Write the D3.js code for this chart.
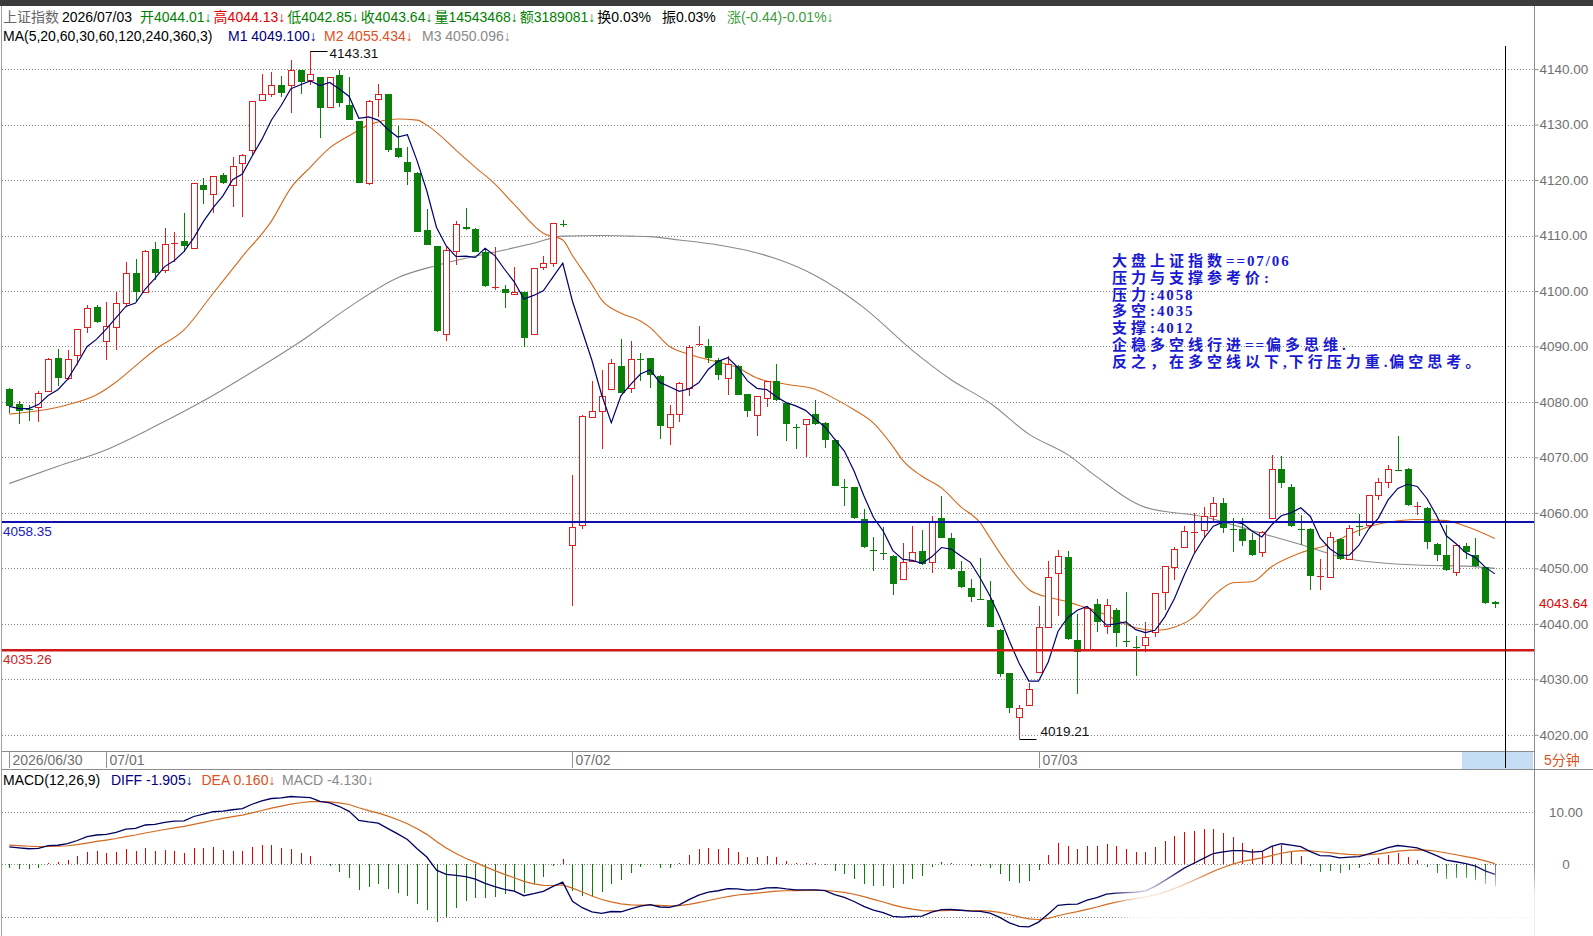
<!DOCTYPE html>
<html>
<head>
<meta charset="utf-8">
<title>上证指数 5分钟</title>
<script src="https://cdn.jsdelivr.net/npm/d3@7/dist/d3.min.js"></script>
<style>
  html, body { margin: 0; padding: 0; background: #ffffff; }
  svg { display: block; font-family: "Liberation Sans", Arial, "Noto Sans CJK SC", sans-serif; }
</style>
</head>
<body>
<svg id="chart"></svg>
<script>
// 5 minute bars of 上证指数, tail of 06/30 then 07/01 .. 07/03 (48 bars a day)
const opens = [
  4082.3,4079.6,4079.0,4079.0,4082.0,4087.9,4084.4,4088.5,4093.5,4097.2,
  4090.9,4093.6,4097.8,4103.2,4099.9,4107.5,4103.8,4108.5,4109.0,4107.7,
  4119.1,4117.5,4121.0,4119.1,4123.0,4125.5,4134.5,4135.5,4137.1,4137.1,
  4139.8,4138.0,4138.5,4133.2,4138.9,4133.5,4130.6,4119.5,4134.7,4135.5,
  4125.7,4123.2,4121.3,4111.0,4108.1,4092.2,4107.2,4111.5,4111.1,4107.1,
  4100.7,4100.3,4099.4,4099.9,4092.2,4104.3,4105.0,4112.3,4054.2,4057.8,
  4077.3,4078.4,4082.3,4086.5,4082.6,4087.9,4087.9,4084.7,4075.4,4077.8,
  4082.5,4090.2,4090.1,4087.6,4084.4,4086.5,4081.4,4077.7,4080.7,4083.7,
  4079.8,4075.6,4076.0,4077.8,4076.2,4073.2,4064.9,4064.6,4058.9,4053.5,
  4052.9,4052.3,4048.1,4051.3,4053.1,4051.1,4059.0,4055.5,4049.6,4046.4,
  4044.6,4044.3,4038.9,4031.1,4023.2,4025.4,4031.4,4039.4,4049.2,4052.0,
  4037.1,4035.4,4043.6,4039.6,4042.5,4037.1,4036.1,4036.1,4038.5,4045.8,
  4050.3,4053.9,4056.4,4057.0,4059.4,4061.7,4057.3,4057.1,4055.1,4053.0,
  4059.0,4068.0,4064.7,4057.3,4057.1,4048.4,4048.5,4055.3,4051.6,4057.9,
  4057.9,4063.2,4065.5,4067.9,4068.0,4061.0,4060.9,4054.4,4052.4,4049.4,
  4054.0,4052.4,4050.2,4044.01
];
const highs = [
  4082.5,4080.1,4079.5,4082.0,4087.9,4089.5,4089.4,4093.2,4097.5,4097.5,
  4098.1,4099.9,4105.3,4105.7,4107.4,4108.9,4111.3,4110.6,4114.0,4119.5,
  4120.3,4120.8,4121.2,4124.2,4124.7,4134.3,4139.2,4139.5,4138.7,4141.6,
  4139.9,4143.31,4138.6,4138.6,4139.8,4138.5,4130.7,4134.4,4137.4,4135.6,
  4129.7,4126.0,4121.5,4114.8,4108.2,4108.0,4112.6,4114.9,4111.3,4107.7,
  4108.0,4101.1,4104.3,4099.9,4104.2,4106.3,4112.3,4112.8,4066.8,4077.6,
  4083.7,4085.8,4087.7,4091.3,4090.9,4088.9,4088.0,4084.8,4079.5,4083.6,
  4090.3,4093.7,4091.4,4087.9,4088.2,4086.7,4081.5,4081.1,4083.8,4086.8,
  4079.9,4076.0,4077.0,4080.4,4076.3,4073.3,4066.2,4064.7,4060.7,4055.7,
  4057.5,4052.4,4054.5,4057.6,4057.0,4059.4,4063.1,4056.3,4051.3,4048.0,
  4051.9,4047.8,4039.0,4031.2,4025.4,4029.3,4043.2,4051.4,4053.4,4053.1,
  4041.7,4043.2,4044.4,4044.4,4042.8,4045.8,4037.8,4040.3,4045.6,4050.5,
  4053.9,4057.7,4060.0,4061.1,4062.8,4062.6,4059.0,4059.0,4056.3,4056.7,
  4070.4,4070.2,4065.2,4059.6,4057.2,4051.6,4056.6,4055.4,4057.9,4059.8,
  4063.3,4066.3,4068.6,4073.9,4068.1,4062.0,4061.0,4054.5,4057.8,4054.3,
  4054.5,4055.4,4050.3,4044.13
];
const lows = [
  4078.0,4076.0,4076.5,4076.3,4081.8,4082.8,4084.0,4086.7,4092.5,4094.3,
  4087.6,4089.4,4097.2,4098.1,4099.7,4102.0,4103.2,4105.3,4107.1,4107.5,
  4115.7,4114.1,4119.2,4115.2,4113.3,4124.5,4134.4,4135.0,4134.9,4132.0,
  4135.6,4137.1,4127.5,4132.9,4133.2,4130.8,4119.4,4119.1,4131.4,4125.1,
  4123.9,4119.1,4110.6,4108.3,4092.6,4090.9,4104.7,4111.0,4107.0,4100.8,
  4100.2,4096.9,4099.3,4089.9,4092.1,4103.7,4104.4,4111.6,4043.2,4057.1,
  4077.2,4071.5,4082.2,4081.6,4081.6,4083.7,4082.5,4073.3,4072.3,4076.3,
  4081.0,4090.0,4087.1,4084.0,4081.3,4081.2,4077.2,4073.9,4079.0,4080.1,
  4072.9,4071.5,4070.0,4075.9,4071.7,4064.8,4061.3,4058.9,4053.6,4049.5,
  4051.5,4045.2,4048.0,4051.2,4050.6,4049.2,4055.4,4049.7,4046.5,4043.9,
  4044.3,4039.4,4030.4,4023.9,4019.21,4025.3,4031.3,4039.3,4041.4,4037.1,
  4027.4,4035.3,4038.6,4038.2,4035.8,4035.8,4030.6,4035.0,4037.6,4042.5,
  4047.9,4053.6,4052.8,4055.4,4058.5,4056.3,4052.9,4054.1,4052.3,4052.1,
  4058.9,4064.5,4057.5,4054.2,4046.1,4046.1,4048.2,4051.5,4051.5,4055.9,
  4057.3,4062.3,4064.4,4067.6,4061.2,4059.6,4053.5,4051.4,4049.6,4048.6,
  4051.6,4050.2,4043.6,4042.85
];
const closes = [
  4079.2,4078.4,4078.8,4081.7,4087.7,4084.4,4087.7,4093.1,4096.9,4094.5,
  4093.7,4097.8,4103.2,4099.9,4107.2,4103.3,4108.4,4108.7,4108.1,4119.4,
  4118.2,4120.7,4119.4,4122.6,4124.6,4134.2,4135.6,4137.1,4135.7,4139.8,
  4137.7,4139.1,4132.9,4138.5,4133.9,4130.9,4119.5,4134.2,4135.5,4125.5,
  4124.1,4121.5,4110.7,4108.3,4092.7,4107.4,4112.0,4111.1,4107.1,4100.9,
  4100.8,4099.7,4099.8,4091.6,4104.1,4105.0,4112.2,4112.1,4057.4,4077.5,
  4078.4,4081.1,4087.0,4081.7,4087.7,4087.7,4084.9,4075.6,4077.8,4083.5,
  4089.9,4090.4,4087.9,4084.9,4086.8,4081.3,4078.3,4081.0,4083.7,4080.4,
  4076.0,4075.4,4076.9,4076.0,4073.2,4064.9,4064.7,4059.0,4053.9,4053.3,
  4052.7,4047.1,4051.2,4052.9,4050.7,4058.5,4055.5,4049.8,4046.6,4044.8,
  4044.4,4039.5,4031.0,4024.8,4024.8,4028.3,4039.4,4048.4,4052.2,4037.2,
  4035.0,4042.9,4040.3,4043.4,4038.3,4036.9,4035.9,4037.6,4045.5,4050.4,
  4053.5,4056.8,4056.6,4059.4,4061.7,4057.2,4057.1,4055.0,4052.4,4056.6,
  4068.0,4065.4,4057.6,4057.1,4048.7,4048.6,4055.7,4051.6,4057.3,4057.7,
  4063.2,4065.5,4068.0,4067.7,4061.4,4061.2,4054.7,4052.4,4049.7,4054.2,
  4053.0,4050.4,4043.8,4043.64
];

// M2 (MA20) and M3 (MA60) as [bar index, value]
const m2Points = [
  [0,4077.8],[3,4078.4],[6,4079.5],[9,4081.3],[11,4083.6],[13,4086.5],[15,4089.4],[18,4093.0],
  [21,4099.6],[24,4106.2],[27,4112.6],[29,4118.6],[31,4122.3],[33,4125.8],[35,4128.0],[37,4129.9],
  [40,4131.0],[42,4130.8],[43,4129.9],[44,4128.6],[46,4125.4],[48,4122.3],[50,4119.3],[52,4115.6],
  [55,4110.4],[57,4109.2],[58,4106.4],[60,4101.2],[61,4098.4],[63,4096.0],[65,4094.6],[66,4093.4],
  [68,4090.0],[70,4088.6],[72,4087.6],[75,4086.2],[77,4084.3],[80,4083.2],[83,4082.3],[85,4080.6],
  [87,4078.6],[89,4076.2],[91,4072.0],[92,4069.5],[94,4066.6],[96,4064.5],[98,4061.1],[100,4058.2],
  [101,4055.5],[103,4050.3],[105,4046.2],[107,4044.8],[109,4044.0],[110,4043.4],[112,4042.3],[114,4040.7],
  [116,4039.3],[118,4038.8],[120,4039.4],[122,4041.2],[124,4045.0],[126,4047.4],[128,4047.6],[130,4050.3],
  [133,4052.8],[136,4054.4],[138,4056.1],[140,4057.5],[142,4058.3],[145,4058.8],[148,4058.6],[150,4057.6],
  [153,4055.4]
];
const m3Points = [
  [0,4065.3],[5,4068.4],[10,4071.4],[15,4075.6],[20,4080.2],[25,4085.4],[30,4090.9],[35,4097.1],
  [40,4102.4],[44,4104.6],[48,4106.3],[51,4107.4],[54,4108.6],[57,4109.9],[61,4110.0],[64,4109.9],
  [66,4109.8],[69,4109.2],[73,4108.3],[76,4107.3],[79,4105.8],[83,4102.8],[88,4097.0],[93,4089.3],
  [97,4084.0],[101,4079.8],[105,4074.2],[109,4070.5],[112,4066.5],[117,4061.0],[123,4059.3],[129,4056.3],
  [133,4054.3],[138,4051.7],[145,4050.6],[150,4050.4],[153,4050.0]
];

// macd state at the first visible bar
const macdStartDiff = 3.35;
const macdStartDea = 3.7;
const macdStartLag = 1.5;   // ema12 sits a little under the first close (market was rising)

const priceTicks = [4020, 4030, 4040, 4050, 4060, 4070, 4080, 4090, 4100, 4110, 4120, 4130, 4140];
const macdTicks = [10, 0, -10];
const dateLabels = ['2026/06/30', '07/01', '07/02', '07/03'];
const dateIndex = [0, 10, 58, 106];

const pressureLevel = 4058.35;
const bullBearLevel = 4035.26;
const lastPrice = 4043.64;
const highMark = { index: 31, value: 4143.31 };
const lowMark = { index: 104, value: 4019.21 };

const noteLines = [
  '大盘上证指数==07/06',
  '压力与支撑参考价:',
  '压力:4058',
  '多空:4035',
  '支撑:4012',
  '企稳多空线行进==偏多思维.',
  '反之，在多空线以下,下行压力重.偏空思考。'
];

const UP = '#e01e1e';
const DOWN = '#0a800a';

function makeChart() {
  let w = 1593;
  let h = 936;
  let plotRight = 1534;

  let svg = d3.select('#chart')
    .attr('width', w)
    .attr('height', h);

  svg.append('rect').attr('width', w).attr('height', h).attr('fill', '#ffffff');
  svg.append('rect').attr('width', w).attr('height', 6).attr('fill', '#3c3c3c');

  let defs = svg.append('defs');
  defs.append('filter').attr('id', 'soft')
    .attr('x', '-20%').attr('y', '-40%').attr('width', '140%').attr('height', '180%')
    .append('feGaussianBlur').attr('stdDeviation', 9);

  let xScale = d3.scaleLinear()
    .domain([0, closes.length - 1])
    .range([9.3, 1494.9]);
  let yScale = d3.scaleLinear()
    .domain([4020, 4140])
    .range([734.8, 69.1]);
  let yMacd = d3.scaleLinear()
    .domain([-10, 10])
    .range([916.6, 812.2]);

  // crisp pixel centre of a bar
  let px = (i) => Math.round(xScale(i)) + 0.5;
  let py = (v) => Math.round(yScale(v)) + 0.5;

  // frame
  svg.append('line').attr('x1', 1.5).attr('x2', 1.5).attr('y1', 6).attr('y2', h)
    .attr('stroke', '#a0a0a0');
  svg.append('line').attr('x1', plotRight + 0.5).attr('x2', plotRight + 0.5).attr('y1', 6).attr('y2', h)
    .attr('stroke', '#8c8c8c');

  // price grid
  svg.append('g').selectAll('line')
    .data(priceTicks)
    .enter()
    .append('line')
    .attr('x1', 2).attr('x2', plotRight)
    .attr('y1', (d) => py(d)).attr('y2', (d) => py(d))
    .attr('stroke', '#8a8a8a')
    .attr('stroke-dasharray', '1,2');

  // price axis on the right
  let yAxis = d3.axisRight(yScale)
    .tickValues(priceTicks)
    .tickFormat(d3.format('.2f'))
    .tickSize(4)
    .tickPadding(1);
  let yAxisG = svg.append('g')
    .attr('transform', `translate(${plotRight + 0.5}, 0)`)
    .call(yAxis);
  yAxisG.select('.domain').remove();
  yAxisG.selectAll('line').attr('stroke', '#8c8c8c');
  yAxisG.selectAll('text')
    .attr('fill', '#707070')
    .style('font-size', '13.5px')
    .style('font-family', '"Liberation Sans", Arial, sans-serif');

  // last price tag
  svg.append('text')
    .attr('x', plotRight + 5)
    .attr('y', yScale(lastPrice))
    .attr('dy', '0.35em')
    .attr('fill', '#e00000')
    .style('font-size', '13.5px')
    .text(lastPrice.toFixed(2));

  // M3 and M2 below the candles
  let curve = d3.line()
    .x((d) => xScale(d[0]))
    .y((d) => yScale(d[1]))
    .curve(d3.curveMonotoneX);

  svg.append('path').datum(m3Points)
    .attr('d', curve).attr('fill', 'none')
    .attr('stroke', '#8a8a8a').attr('stroke-width', 1.1);
  svg.append('path').datum(m2Points)
    .attr('d', curve).attr('fill', 'none')
    .attr('stroke', '#d2691e').attr('stroke-width', 1.1);

  // candles
  let bars = closes.map((c, i) => ({ i: i, o: opens[i], h: highs[i], l: lows[i], c: c }));
  let cg = svg.append('g').attr('shape-rendering', 'crispEdges');

  bars.forEach((d) => {
    let up = d.c >= d.o;
    let color = up ? UP : DOWN;
    let cx = px(d.i);
    let top = Math.max(d.o, d.c);
    let bot = Math.min(d.o, d.c);

    if (top - bot < 0.35) {
      // doji: cross
      cg.append('line').attr('x1', cx).attr('x2', cx)
        .attr('y1', yScale(d.h)).attr('y2', yScale(d.l)).attr('stroke', color);
      cg.append('line').attr('x1', cx - 3.5).attr('x2', cx + 3.5)
        .attr('y1', py(d.c)).attr('y2', py(d.c)).attr('stroke', color).attr('stroke-width', 1.5);
      return;
    }

    if (up) {
      cg.append('line').attr('x1', cx).attr('x2', cx)
        .attr('y1', yScale(d.h)).attr('y2', yScale(top)).attr('stroke', color);
      cg.append('line').attr('x1', cx).attr('x2', cx)
        .attr('y1', yScale(bot)).attr('y2', yScale(d.l)).attr('stroke', color);
      cg.append('rect')
        .attr('x', cx - 3).attr('width', 6)
        .attr('y', py(top)).attr('height', Math.max(1, py(bot) - py(top)))
        .attr('fill', '#ffffff').attr('stroke', color);
    } else {
      cg.append('line').attr('x1', cx).attr('x2', cx)
        .attr('y1', yScale(d.h)).attr('y2', yScale(d.l)).attr('stroke', color);
      cg.append('rect')
        .attr('x', cx - 3.5).attr('width', 7)
        .attr('y', yScale(top)).attr('height', Math.max(1.5, yScale(bot) - yScale(top)))
        .attr('fill', color);
    }
  });

  // M1 = MA5 of the closes
  let ma5 = closes.map((c, i) => d3.mean(closes.slice(Math.max(0, i - 4), i + 1)));
  svg.append('path').datum(ma5)
    .attr('d', d3.line().x((d, i) => xScale(i)).y((d) => yScale(d)))
    .attr('fill', 'none').attr('stroke', '#000070').attr('stroke-width', 1.2);

  // pressure / bull-bear lines
  svg.append('line').attr('x1', 2).attr('x2', plotRight)
    .attr('y1', yScale(pressureLevel)).attr('y2', yScale(pressureLevel))
    .attr('stroke', '#1010b0').attr('stroke-width', 2);
  svg.append('line').attr('x1', 2).attr('x2', plotRight)
    .attr('y1', yScale(bullBearLevel)).attr('y2', yScale(bullBearLevel))
    .attr('stroke', '#d01818').attr('stroke-width', 2.5);
  svg.append('text').attr('x', 3).attr('y', yScale(pressureLevel) + 14)
    .attr('fill', '#2020c0').style('font-size', '13.5px').text(pressureLevel.toFixed(2));
  svg.append('text').attr('x', 3).attr('y', yScale(bullBearLevel) + 14)
    .attr('fill', '#d02020').style('font-size', '13.5px').text(bullBearLevel.toFixed(2));

  // high / low markers
  let hx = px(highMark.index);
  let hy = Math.round(yScale(highMark.value)) + 0.5;
  svg.append('line').attr('x1', hx).attr('x2', hx + 17).attr('y1', hy).attr('y2', hy).attr('stroke', '#000');
  svg.append('text').attr('x', hx + 19).attr('y', hy + 6)
    .attr('fill', '#111').style('font-size', '13.5px').text(highMark.value.toFixed(2));

  let lx = px(lowMark.index);
  let ly = Math.round(yScale(lowMark.value)) + 0.5;
  svg.append('line').attr('x1', lx).attr('x2', lx + 17).attr('y1', ly).attr('y2', ly).attr('stroke', '#000');
  svg.append('text').attr('x', lx + 21).attr('y', ly - 4)
    .attr('fill', '#111').style('font-size', '13.5px').text(lowMark.value.toFixed(2));

  // note text: wide spacing for the CJK runs, tighter for the ascii runs
  let note = svg.append('text')
    .attr('fill', '#1a1ad2')
    .style('font-family', '"Liberation Serif", "Noto Sans CJK SC", serif')
    .style('font-size', '15px')
    .style('font-weight', 'bold');
  noteLines.forEach((t, i) => {
    let runs = t.split(/([\x00-\xff]+)/).filter((s) => s.length > 0);
    runs.forEach((s, k) => {
      let ascii = /^[\x00-\xff]+$/.test(s);
      let ts = note.append('tspan')
        .style('letter-spacing', ascii ? '1.9px' : '4px')
        .text(s);
      if (k === 0) ts.attr('x', 1112).attr('y', 266 + i * 16.8);
    });
  });

  // date strip
  svg.append('line').attr('x1', 2).attr('x2', plotRight).attr('y1', 751.5).attr('y2', 751.5).attr('stroke', '#8c8c8c');
  svg.append('line').attr('x1', 2).attr('x2', w).attr('y1', 769.5).attr('y2', 769.5).attr('stroke', '#8c8c8c');
  svg.append('rect').attr('x', 1462).attr('y', 752).attr('width', 71).attr('height', 17).attr('fill', '#c4dcf4');

  let xAxis = d3.axisBottom(xScale)
    .tickValues(dateIndex)
    .tickFormat((d, k) => dateLabels[k])
    .tickSize(16);
  let xAxisG = svg.append('g')
    .attr('transform', 'translate(0, 752)')
    .call(xAxis);
  xAxisG.select('.domain').remove();
  xAxisG.selectAll('.tick').attr('transform', (d) => `translate(${px(d)},0)`);
  xAxisG.selectAll('line').attr('stroke', '#909090');
  xAxisG.selectAll('text')
    .attr('x', 3).attr('y', 13).attr('dy', null)
    .attr('text-anchor', 'start')
    .attr('fill', '#707070')
    .style('font-size', '14px')
    .style('font-family', '"Liberation Sans", Arial, sans-serif');

  svg.append('text').attr('x', 1544).attr('y', 765)
    .attr('fill', '#d9531e').style('font-size', '14px').text('5分钟');

  // cursor
  svg.append('line').attr('x1', 1505.5).attr('x2', 1505.5).attr('y1', 46).attr('y2', 768)
    .attr('stroke', '#000').attr('stroke-width', 1);

  // MACD(12,26,9) from the closes
  let ema12 = closes[0] - macdStartLag;
  let ema26 = ema12 - macdStartDiff;
  let dea = macdStartDea;
  let diffs = [], deas = [], hists = [];
  closes.forEach((c, i) => {
    if (i > 0) {
      ema12 = ema12 * 11 / 13 + c * 2 / 13;
      ema26 = ema26 * 25 / 27 + c * 2 / 27;
    }
    let dif = ema12 - ema26;
    if (i > 0) dea = dea * 0.8 + dif * 0.2;
    diffs.push(dif);
    deas.push(dea);
    hists.push(2 * (dif - dea));
  });

  svg.append('g').selectAll('line')
    .data(macdTicks)
    .enter()
    .append('line')
    .attr('x1', 2).attr('x2', plotRight)
    .attr('y1', (d) => Math.round(yMacd(d)) + 0.5).attr('y2', (d) => Math.round(yMacd(d)) + 0.5)
    .attr('stroke', '#8a8a8a')
    .attr('stroke-dasharray', '1,2');

  let mAxis = d3.axisRight(yMacd)
    .tickValues([10, 0])
    .tickFormat((d) => d === 0 ? '0' : d.toFixed(2))
    .tickSize(0)
    .tickPadding(32);
  let mAxisG = svg.append('g')
    .attr('transform', `translate(${plotRight}, 0)`)
    .call(mAxis);
  mAxisG.select('.domain').remove();
  mAxisG.selectAll('text')
    .attr('text-anchor', 'middle')
    .attr('fill', '#707070')
    .style('font-size', '13.5px')
    .style('font-family', '"Liberation Sans", Arial, sans-serif');

  svg.append('g').attr('shape-rendering', 'crispEdges')
    .selectAll('line')
    .data(hists)
    .enter()
    .append('line')
    .attr('x1', (d, i) => px(i)).attr('x2', (d, i) => px(i))
    .attr('y1', yMacd(0))
    .attr('y2', (d) => yMacd(d))
    .attr('stroke', (d, i) => i === hists.length - 1 ? '#6a6ac8' : (d >= 0 ? '#e00000' : '#0a800a'))
    .attr('stroke-width', 1.4);

  let mline = d3.line().x((d, i) => xScale(i)).y((d) => yMacd(d));
  svg.append('path').datum(deas).attr('d', mline)
    .attr('fill', 'none').attr('stroke', '#d2691e').attr('stroke-width', 1.2);
  svg.append('path').datum(diffs).attr('d', mline)
    .attr('fill', 'none').attr('stroke', '#000060').attr('stroke-width', 1.3);

  // washed out corner of the screenshot
  svg.append('rect').attr('x', 1125).attr('y', 880).attr('width', 460).attr('height', 70)
    .attr('fill', '#ffffff').attr('opacity', 0.85).attr('filter', 'url(#soft)');

  // header rows; items without x follow the previous one
  let rows = [
    { y: 22, items: [
      [3, '上证指数', '#666666'], [62, '2026/07/03', '#000000'], [140, '开4044.01↓', '#008000'],
      [null, '高4044.13↓', '#e00000'], [null, '低4042.85↓', '#008000'], [null, '收4043.64↓', '#008000'],
      [null, '量14543468↓', '#008000'], [null, '额3189081↓', '#008000'], [null, '换0.03%', '#000000'],
      [662, '振0.03%', '#000000'], [727, '涨(-0.44)-0.01%↓', '#3c9c3c']] },
    { y: 41, items: [
      [3, 'MA(5,20,60,30,60,120,240,360,3)', '#000000'], [228, 'M1 4049.100↓', '#00007f'],
      [324, 'M2 4055.434↓', '#e0501e'], [422, 'M3 4050.096↓', '#8a8a8a']] },
    { y: 785, items: [
      [3, 'MACD(12,26,9)', '#000000'], [111, 'DIFF -1.905↓', '#00007f'],
      [201.5, 'DEA 0.160↓', '#e0501e'], [282, 'MACD -4.130↓', '#8a8a8a']] }
  ];
  rows.forEach((r) => {
    let next = 0;
    r.items.forEach((d) => {
      let t = svg.append('text')
        .attr('x', d[0] === null ? next : d[0])
        .attr('y', r.y)
        .attr('fill', d[2])
        .style('font-size', '14px')
        .text(d[1]);
      next = (d[0] === null ? next : d[0]) + t.node().getComputedTextLength() + 2;
    });
  });
}

window.onload = function () {
  makeChart();
}
</script>
</body>
</html>
